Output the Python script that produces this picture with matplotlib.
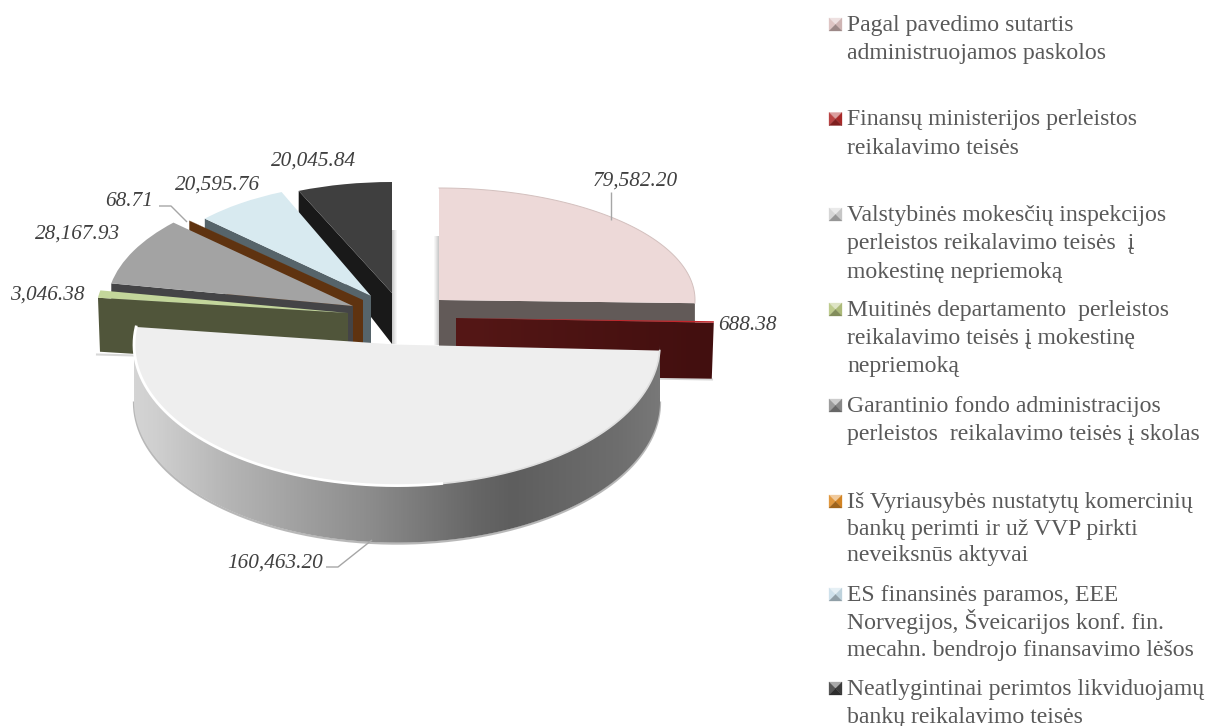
import numpy as np
import matplotlib
matplotlib.use("Agg")
import matplotlib.pyplot as plt
from matplotlib.colors import LinearSegmentedColormap, to_rgb
from matplotlib.patches import Polygon
from matplotlib.transforms import Affine2D

# ---- data ----
values = [79582.20, 688.38, 160463.20, 3046.38, 28167.93, 68.71, 20595.76, 20045.84]
value_labels = ["79,582.20", "688.38", "160,463.20", "3,046.38", "28,167.93", "68.71", "20,595.76", "20,045.84"]
categories = [
    "Pagal pavedimo sutartis\nadministruojamos paskolos",
    "Finansų ministerijos perleistos\nreikalavimo teisės",
    "Valstybinės mokesčių inspekcijos\nperleistos reikalavimo teisės  į\nmokestinę nepriemoką",
    "Muitinės departamento  perleistos\nreikalavimo teisės į mokestinę\nnepriemoką",
    "Garantinio fondo administracijos\nperleistos  reikalavimo teisės į skolas",
    "Iš Vyriausybės nustatytų komercinių\nbankų perimti ir už VVP pirkti\nneveiksnūs aktyvai",
    "ES finansinės paramos, EEE\nNorvegijos, Šveicarijos konf. fin.\nmecahn. bendrojo finansavimo lėšos",
    "Neatlygintinai perimtos likviduojamų\nbankų reikalavimo teisės",
]

# ---- styles / layout (pixels) ----
top_colors = ["#edd9d8", "#c4262b", "#eeeeee", "#c3d69b", "#a3a3a3", "#6b3a10", "#d8eaf0", "#3f3f3f"]
side_colors = ["#625a58", "#4b1312", "#8c8c8c", "#50553a", "#444446", "#5f3310", "#56646a", "#191919"]
key_colors = ["#d9bdbc", "#b02a2a", "#d0d0d0", "#b5c47f", "#8f8f8f", "#dd8a25", "#c8dde8", "#3f3f3f"]
# apex x, apex y, radius x, radius y
geometry = [(439, 300, 256, 112), (456, 318, 258, 112), (397, 344.6, 263, 141), (348, 313, 252, 122),
            (353, 306, 246, 122), (363, 300, 238, 116), (371, 296, 228, 113), (392, 293, 238, 111)]
# depth of the cut face at apex and at rim
depths = [(57, 57), (57, 56), (57, 57), (54, 54), (57, 57), (57, 57), (57, 57), (51, 33)]
draw_order = [7, 6, 5, 4, 3, 0, 1, 2]
label_pos = [(593, 185.5), (718, 330), (227, 568), (10, 300), (35, 239), (105, 206), (175, 190), (271, 166)]
legend_baselines = [31, 125.5, 221, 316, 412, 508, 601, 695]
legend_steps = [28.5, 28, 28.5, 28, 28, 26.5, 27.5, 28]

FONT = "Liberation Serif"
fig = plt.figure(figsize=(12.1, 7.26), dpi=100, facecolor="white")
ax = fig.add_axes([0, 0, 1, 1])
wedges, _ = ax.pie(values, startangle=90, counterclock=False, radius=1, center=(0, 0))
ax.set_aspect("auto")
ax.set_xlim(0, 1210)
ax.set_ylim(726, 0)
ax.axis("off")


def point(g, deg):
    cx, cy, rx, ry = g
    a = np.radians(deg)
    return cx + rx * np.cos(a), cy - ry * np.sin(a)


def gradient_fill(verts, stops, z):
    """Fill a polygon with a horizontal colour gradient."""
    verts = np.asarray(verts)
    patch = Polygon(verts, closed=True, facecolor="none", edgecolor="none", zorder=z)
    ax.add_patch(patch)
    x0, x1 = verts[:, 0].min(), verts[:, 0].max()
    y0, y1 = verts[:, 1].min(), verts[:, 1].max()
    stops = [(np.clip((x - x0) / (x1 - x0), 0, 1), c) for x, c in stops]
    cmap = LinearSegmentedColormap.from_list("g", stops)
    im = ax.imshow(np.linspace(0, 1, 512)[None, :], cmap=cmap, extent=[x0, x1, y1, y0],
                   aspect="auto", zorder=z, interpolation="bilinear")
    im.set_clip_path(patch)


# soft shadows behind the rear slices
for i, (dx, y0, y1) in {7: (0, 230, 344), 0: (0, 236, 345)}.items():
    x = geometry[i][0] + dx
    for k, a in enumerate([0.3, 0.24, 0.17, 0.1, 0.05]):
        left = x + k if i == 7 else x - k - 1
        ax.fill_between([left, left + 1], y0, y1, color="#555555", alpha=a, lw=0, zorder=1)

for order, i in enumerate(draw_order):
    g = geometry[i]
    w = wedges[i]
    base_z = 2 + order * 2
    w.set_transform(Affine2D().scale(g[2], -g[3]).translate(g[0], g[1]) + ax.transData)
    w.set_facecolor(top_colors[i])
    w.set_edgecolor("none")
    w.set_zorder(base_z + 1)
    if i == 2:
        continue
    cut = w.theta1 if i in (0, 1) else w.theta2
    apex = (g[0], g[1])
    rim = point(g, cut)
    h_apex, h_rim = depths[i]
    face = [apex, rim, (rim[0] + (2 if i == 3 else -2 if i == 1 else 0), rim[1] + h_rim), (apex[0], apex[1] + h_apex)]
    if i == 1:
        x0, x1 = apex[0], rim[0]
        gradient_fill(face, [(x0, "#551716"), (x1, "#420f0f")], base_z)
    else:
        ax.add_patch(Polygon(face, closed=True, facecolor=side_colors[i], edgecolor="none", zorder=base_z))

# pink top edge
g0 = geometry[0]
th = np.linspace(wedges[0].theta1, wedges[0].theta2, 100)
px, py = point(g0, th)
ax.plot(px, py, color="#d3c0be", lw=0.7, zorder=wedges[0].get_zorder() + 0.1)

# soft shadows below the dark red and green faces
ax.plot([456, 712], [375.5, 379.5], color="#aaaaaa", lw=1.5, alpha=0.45, zorder=wedges[1].get_zorder() - 1.5)
ax.plot([97, 135], [354.5, 355.5], color="#aaaaaa", lw=1.5, alpha=0.45, zorder=wedges[3].get_zorder() - 1.5)

# rim of the large slice
g = geometry[2]
w = wedges[2]
z = w.get_zorder()
arc = np.linspace(-180, 0, 300)
tx, ty = point(g, arc)
h = depths[2][0]
side = np.column_stack([np.r_[tx, tx[::-1]], np.r_[ty, ty[::-1] + h]])
ax.plot(tx, ty + h + 1, color="#8a8a8a", lw=1.6, alpha=0.6, zorder=z - 1.4)
gradient_fill(side, [(134, "#d4d4d4"), (156, "#cfcfcf"), (227, "#b5b5b5"), (370, "#8c8c8c"),
                     (477, "#666666"), (513, "#5e5e5e"), (620, "#6e6e6e"), (660, "#787878")], z - 1)
lo = np.linspace(w.theta1, w.theta2, 400)
lx, ly = point(g, lo)
left_part = lo < -80
ax.plot(lx[~left_part], ly[~left_part], color="#dedede", lw=1.2, zorder=z + 0.1)
ax.plot(lx[left_part], ly[left_part], color="white", lw=2.0, zorder=z + 0.1)

# leader lines
leaders = [([611, 611], [192, 220]), ([326, 338, 372], [567, 567, 540]), ([159, 171, 187], [206, 206, 222])]
for lxs, lys in leaders:
    ax.plot(lxs, lys, color="#a6a6a6", lw=1.0, zorder=30, solid_capstyle="butt")

# value labels
for text, (x, y) in zip(value_labels, label_pos):
    ax.text(x, y, text, family=FONT, style="italic", fontsize=15.3, color="#404040",
            ha="left", va="baseline", zorder=31)


def mix(c, other, t):
    c, other = np.array(to_rgb(c)), np.array(to_rgb(other))
    return tuple(c * (1 - t) + other * t)


# legend
KX0, KX1 = 829, 842
for label, color, y0, step in zip(categories, key_colors, legend_baselines, legend_steps):
    for n, line in enumerate(label.split("\n")):
        ax.text(847, y0 + n * step, line, family=FONT, fontsize=17.1, color="#595959",
                ha="left", va="baseline", zorder=31)
    kc = y0 - 6.5
    t, b = kc - 6.5, kc + 6.5
    mx = (KX0 + KX1) / 2
    tris = [([(KX0, t), (KX1, t), (mx, kc)], mix(color, "white", 0.55)),
            ([(KX0, t), (KX0, b), (mx, kc)], mix(color, "white", 0.12)),
            ([(KX1, t), (KX1, b), (mx, kc)], mix(color, "black", 0.05)),
            ([(KX0, b), (KX1, b), (mx, kc)], mix(color, "black", 0.28))]
    for verts, c in tris:
        ax.add_patch(Polygon(verts, closed=True, facecolor=c, edgecolor=c, lw=0.2, zorder=20))

ax.set_xlim(0, 1210)
ax.set_ylim(726, 0)
fig.savefig("out.png", dpi=100, facecolor="white")
